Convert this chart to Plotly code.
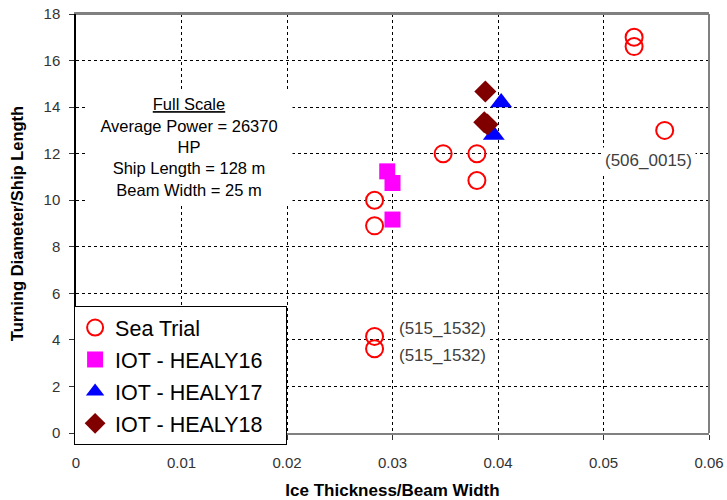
import plotly.graph_objects as go

# Data
sea_x = [0.0529, 0.0529, 0.0558, 0.0348, 0.0380, 0.0380, 0.0283, 0.0283, 0.0283, 0.0283]
sea_y = [17.0, 16.6, 13.0, 12.0, 12.0, 10.85, 10.0, 8.9, 4.15, 3.62]
h16_x = [0.0295, 0.0300, 0.0300]
h16_y = [11.24, 10.74, 9.17]
h17_x = [0.0403, 0.0396]
h17_y = [14.2, 12.8]
h18_x = [0.0388, 0.0387, 0.0390]
h18_y = [14.67, 13.35, 13.25]
series_names = ["Sea Trial", "IOT - HEALY16", "IOT - HEALY17", "IOT - HEALY18"]

FONT = "Arial, Liberation Sans, sans-serif"
PAD = "\u00a0\u00a0\u00a0"

fig = go.Figure()
fig.add_trace(go.Scatter(x=sea_x, y=sea_y, mode="markers", name=series_names[0],
                         marker=dict(symbol="circle-open", size=17, color="#FF0000",
                                     line=dict(width=2, color="#FF0000"))))
fig.add_trace(go.Scatter(x=h16_x, y=h16_y, mode="markers", name=series_names[1] + PAD,
                         marker=dict(symbol="square", size=16, color="#FF00FF")))
fig.add_trace(go.Scatter(x=h17_x, y=h17_y, mode="markers", name=series_names[2] + PAD,
                         marker=dict(symbol="triangle-up", size=19, color="#0000FF")))
fig.add_trace(go.Scatter(x=h18_x, y=h18_y, mode="markers", name=series_names[3] + PAD,
                         marker=dict(symbol="diamond", size=17, color="#800000")))

fig.add_annotation(x=0.0107, y=12.3, xref="x", yref="y",
                   text="<u>Full Scale</u><br>Average Power = 26370<br>HP<br>Ship Length = 128 m<br>Beam Width = 25 m",
                   showarrow=False, bgcolor="white", width=204, height=112,
                   font=dict(family=FONT, size=16.5, color="black"), align="center")
fig.add_annotation(x=0.0543, y=11.7, xref="x", yref="y", text="(506_0015)",
                   showarrow=False, bgcolor="white", borderpad=3,
                   font=dict(family=FONT, size=17, color="#404040"))
fig.add_annotation(x=0.0347, y=4.5, xref="x", yref="y", text="(515_1532)",
                   showarrow=False, bgcolor="white", borderpad=3,
                   font=dict(family=FONT, size=17, color="#404040"))
fig.add_annotation(x=0.0347, y=3.35, xref="x", yref="y", text="(515_1532)",
                   showarrow=False, bgcolor="white", borderpad=3,
                   font=dict(family=FONT, size=17, color="#404040"))

# right and top frame lines (gray)
fig.add_shape(type="line", xref="paper", yref="paper", x0=1, x1=1, y0=0, y1=1,
              line=dict(color="#808080", width=2), layer="above")
fig.add_shape(type="line", xref="paper", yref="paper", x0=0, x1=1, y0=1, y1=1,
              line=dict(color="#808080", width=2), layer="above")

fig.update_layout(
    width=727, height=500,
    margin=dict(l=76, r=18, t=14, b=67),
    paper_bgcolor="white", plot_bgcolor="white",
    font=dict(family=FONT, color="#333333"),
    showlegend=True,
    legend=dict(x=-0.003, y=0.303, xanchor="left", yanchor="top",
                bgcolor="white", bordercolor="black", borderwidth=1,
                font=dict(family=FONT, size=21.5, color="black"),
                tracegroupgap=1),
    xaxis=dict(range=[0, 0.06], dtick=0.01, showgrid=True, gridcolor="black",
               griddash="dot", gridwidth=1, zeroline=False, automargin=False,
               showline=True, linecolor="#808080", linewidth=2, mirror=True,
               ticks="outside", ticklen=5, tickcolor="#333333", ticklabelstandoff=10,
               ticklabeloverflow="allow",
               tickfont=dict(family=FONT, size=15, color="#333333"),
               title=dict(text="<b>Ice Thickness/Beam Width</b>", standoff=21,
                          font=dict(family=FONT, size=17, color="black"))),
    yaxis=dict(range=[0, 18], dtick=2, showgrid=True, gridcolor="black",
               griddash="dot", gridwidth=1, zeroline=False, automargin=False,
               showline=True, linecolor="black", linewidth=1.5,
               ticks="outside", ticklen=5, tickcolor="#333333", ticklabelstandoff=6,
               ticklabeloverflow="allow",
               tickfont=dict(family=FONT, size=15, color="#333333"),
               title=dict(text="<b>Turning Diameter/Ship Length</b>", standoff=16,
                          font=dict(family=FONT, size=16.5, color="black"))),
)
for i, tr in enumerate(fig.data):
    tr.legendgroup = f"g{i}"

fig.write_html("out.html", config={"displayModeBar": False},
               post_script="document.body.style.margin='0px';document.body.style.overflow='hidden';")
